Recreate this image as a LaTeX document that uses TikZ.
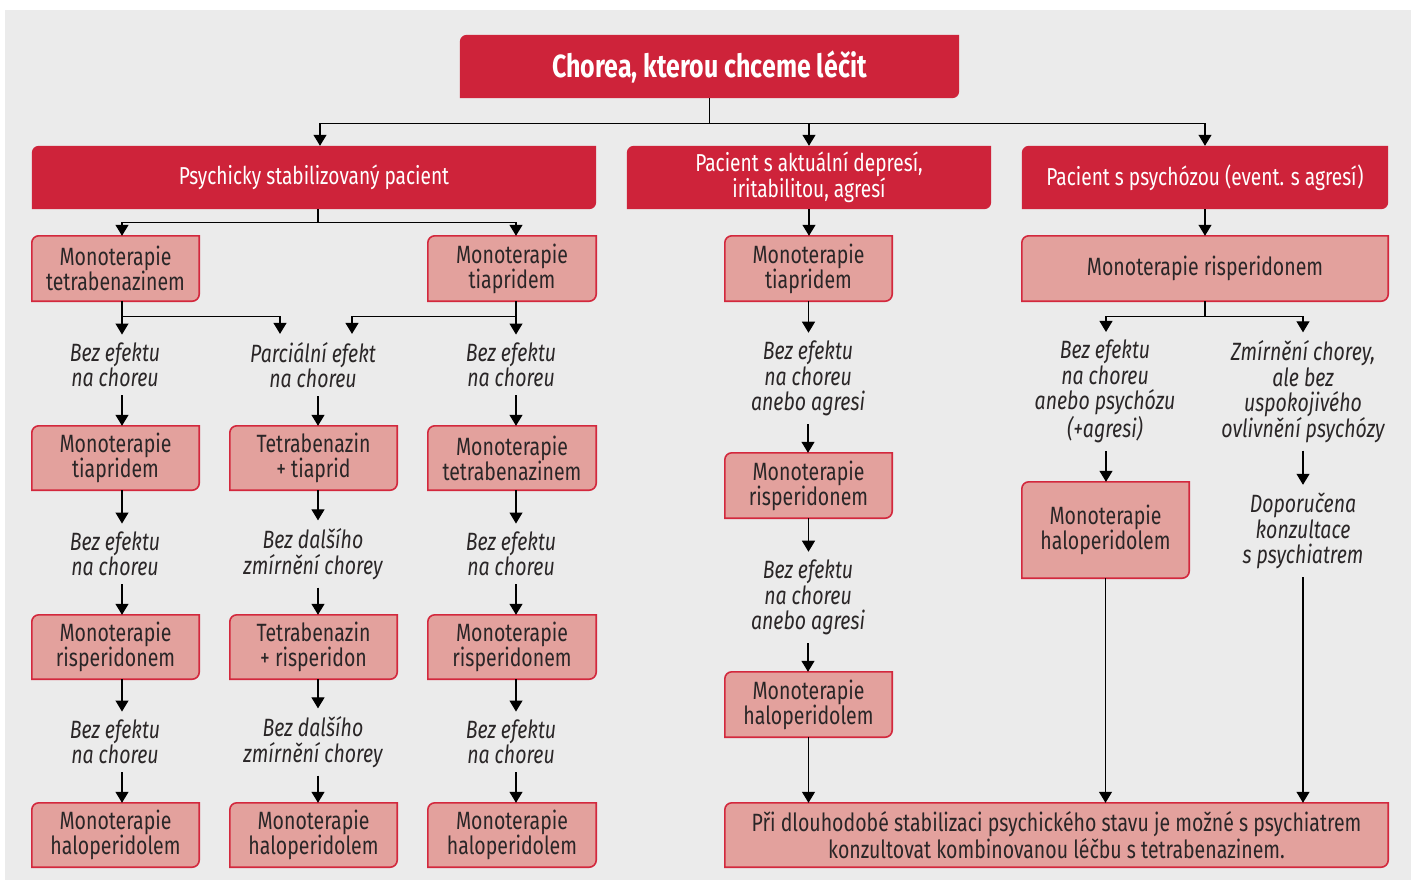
\documentclass[tikz,border=0pt]{standalone}
\usepackage{fontspec}
\setmainfont{Fira Sans}[FakeStretch=0.78]
\usetikzlibrary{arrows.meta,backgrounds}
\pgfdeclarelayer{bg0}
\pgfsetlayers{bg0,background,main}
\definecolor{bgc}{HTML}{EBEBEB}
\definecolor{dred}{HTML}{CE233A}
\definecolor{lfill}{HTML}{E3A19D}
\definecolor{lline}{HTML}{D3283D}
\definecolor{txt}{HTML}{2A2627}
\newcommand\frm[2]{\begin{pgfonlayer}{background}\path[#2] (#1.south west) -- ([yshift=-7pt]#1.north west) arc[start angle=180,end angle=90,radius=7pt] -- (#1.north east) -- ([yshift=7pt]#1.south east) arc[start angle=0,end angle=-90,radius=7pt] -- cycle;\end{pgfonlayer}}
\newcommand\vv[3]{\draw[arr] ([xshift=#3]#1.south) -- ([xshift=#3]#1.south |- #2.north);}
\tikzset{
 dbox/.style={align=center, inner sep=0pt, text=white, font=\fontsize{24.5}{24}\selectfont},
 lbox/.style={align=center, inner sep=0pt, text=txt, font=\fontsize{25}{25}\selectfont},
 lab/.style={align=center, inner xsep=0pt, inner ysep=8pt, text=txt, font=\fontsize{25}{25.5}\selectfont\itshape},
 sz/.style 2 args={minimum width=#1pt, minimum height=#2pt},
 ln/.style={draw=black, line width=1.1pt},
 arr/.style={ln, -{Triangle[width=13pt,length=11pt]}},
 dfr/.style={fill=dred},
 lfr/.style={fill=lfill, draw=lline, line width=1.6pt},
}
\begin{document}
\begin{tikzpicture}[x=1pt,y=-1pt]
\useasboundingbox (0,0) rectangle (1414,880);
\begin{pgfonlayer}{bg0}
\fill[white] (0,0) rectangle (1414,880);
\fill[bgc] (5,10) rectangle (1411,880);
\end{pgfonlayer}
% header boxes
\node[dbox, sz={499}{63}, font=\fontsize{32}{34}\selectfont\bfseries] (T) at (709.5,66.5) {Chorea, kterou chceme léčit};
\node[dbox, sz={564}{63}] (A) at (314,177.5) {Psychicky stabilizovaný pacient};
\node[dbox, sz={364}{63}] (B) at (809,177.5) {Pacient s aktuální depresí,\\iritabilitou, agresí};
\node[dbox, sz={366}{63}] (C) at (1205,177.5) {Pacient s psychózou (event. s agresí)};
% row 1
\node[lbox, sz={167}{65}] (A1) at (115.5,268.5) {Monoterapie\\tetrabenazinem};
\node[lbox, sz={168}{65}] (A2) at (512,268.5) {Monoterapie\\tiapridem};
\node[lbox, sz={167}{65}] (B1) at (808.5,268.5) {Monoterapie\\tiapridem};
\node[lbox, sz={366}{65}] (C1) at (1205,268.5) {Monoterapie risperidonem};
% labels row 1
\node[lab] (L1a) at (115,365) {Bez efektu\\na choreu};
\node[lab] (L1b) at (313,365) {Parciální efekt\\na choreu};
\node[lab] (L1c) at (511,365) {Bez efektu\\na choreu};
\node[lab] (LB1) at (808,378.5) {Bez efektu\\na choreu\\anebo agresi};
\node[lab] (LC1) at (1105,391.5) {Bez efektu\\na choreu\\anebo psychózu\\(+agresi)};
\node[lab] (LC2) at (1303,391.5) {Zmírnění chorey,\\ale bez\\uspokojivého\\ovlivnění psychózy};
% row 2
\node[lbox, sz={167}{64}] (A21) at (115.5,458) {Monoterapie\\tiapridem};
\node[lbox, sz={167}{64}] (A22) at (313.5,458) {Tetrabenazin\\+ tiaprid};
\node[lbox, sz={168}{64}] (A23) at (512,458) {Monoterapie\\tetrabenazinem};
\node[lbox, sz={167}{65}] (B2) at (808.5,485.5) {Monoterapie\\risperidonem};
\node[lbox, sz={167}{96}] (C2) at (1105.5,530) {Monoterapie\\haloperidolem};
\node[lab] (LC3) at (1303,531) {Doporučena\\konzultace\\s psychiatrem};
% labels row 2
\node[lab] (L2a) at (115,554) {Bez efektu\\na choreu};
\node[lab] (L2b) at (313,554) {Bez dalšího\\zmírnění chorey};
\node[lab] (L2c) at (511,554) {Bez efektu\\na choreu};
\node[lab] (LB2) at (808,597.5) {Bez efektu\\na choreu\\anebo agresi};
% row 3
\node[lbox, sz={167}{64}] (A31) at (115.5,647) {Monoterapie\\risperidonem};
\node[lbox, sz={167}{64}] (A32) at (313.5,647) {Tetrabenazin\\+ risperidon};
\node[lbox, sz={168}{64}] (A33) at (512,647) {Monoterapie\\risperidonem};
\node[lbox, sz={167}{65}] (B3) at (808.5,704.5) {Monoterapie\\haloperidolem};
% labels row 3
\node[lab] (L3a) at (115,742) {Bez efektu\\na choreu};
\node[lab] (L3b) at (313,742) {Bez dalšího\\zmírnění chorey};
\node[lab] (L3c) at (511,742) {Bez efektu\\na choreu};
% row 4
\node[lbox, sz={167}{64}] (A41) at (115.5,835) {Monoterapie\\haloperidolem};
\node[lbox, sz={167}{64}] (A42) at (313.5,835) {Monoterapie\\haloperidolem};
\node[lbox, sz={168}{64}] (A43) at (512,835) {Monoterapie\\haloperidolem};
\node[lbox, sz={663}{64}] (F) at (1056.5,835) {Při dlouhodobé stabilizaci psychického stavu je možné s psychiatrem\\konzultovat kombinovanou léčbu s tetrabenazinem.};
% frames
\foreach \n in {T,A,B,C} {\frm{\n}{dfr}}
\foreach \n in {A1,A2,B1,C1,A21,A22,A23,B2,C2,A31,A32,A33,B3,A41,A42,A43,F} {\frm{\n}{lfr}}
% connectors
\draw[ln] (T.south) -- ++(0,25) coordinate (tj);
\draw[arr] (tj) -| ([xshift=6pt]A.north);
\draw[arr] (tj) -| (B.north);
\draw[arr] (tj) -| (C.north);
\draw[ln] ([xshift=4pt]A.south) -- ++(0,13) coordinate (aj);
\draw[arr] (aj) -| ([xshift=6.5pt]A1.north);
\draw[arr] (aj) -| ([xshift=4pt]A2.north);
\vv{B}{B1}{0pt}
\vv{C}{C1}{0pt}
\draw[ln] ([xshift=6.5pt]A1.south) -- ++(0,15) coordinate (a1j);
\draw[arr] (a1j) -- (a1j |- L1a.north);
\draw[arr] (a1j) -| ([xshift=-33pt]L1b.north);
\draw[ln] ([xshift=4pt]A2.south) -- ++(0,15) coordinate (a2j);
\draw[arr] (a2j) -- (a2j |- L1c.north);
\draw[arr] (a2j) -| ([xshift=39pt]L1b.north);
\vv{B1}{LB1}{0pt}
\draw[ln] (C1.south) -- ++(0,15) coordinate (cj);
\draw[arr] (cj) -| ([xshift=1pt]LC1.north);
\draw[arr] (cj) -| (LC2.north);
% column A chains
\vv{L1a}{A21}{7pt}\vv{L1b}{A22}{5pt}\vv{L1c}{A23}{5pt}
\vv{A21}{L2a}{6.5pt}\vv{A22}{L2b}{4.5pt}\vv{A23}{L2c}{4pt}
\vv{L2a}{A31}{7pt}\vv{L2b}{A32}{5pt}\vv{L2c}{A33}{5pt}
\vv{A31}{L3a}{6.5pt}\vv{A32}{L3b}{4.5pt}\vv{A33}{L3c}{4pt}
\vv{L3a}{A41}{7pt}\vv{L3b}{A42}{5pt}\vv{L3c}{A43}{5pt}
% column B
\vv{LB1}{B2}{0pt}
\vv{B2}{LB2}{0pt}
\vv{LB2}{B3}{0pt}
\vv{B3}{F}{0pt}
% column C
\vv{LC1}{C2}{1pt}
\vv{LC2}{LC3}{0pt}
\vv{C2}{F}{0pt}
\vv{LC3}{F}{0pt}
\end{tikzpicture}
\end{document}
